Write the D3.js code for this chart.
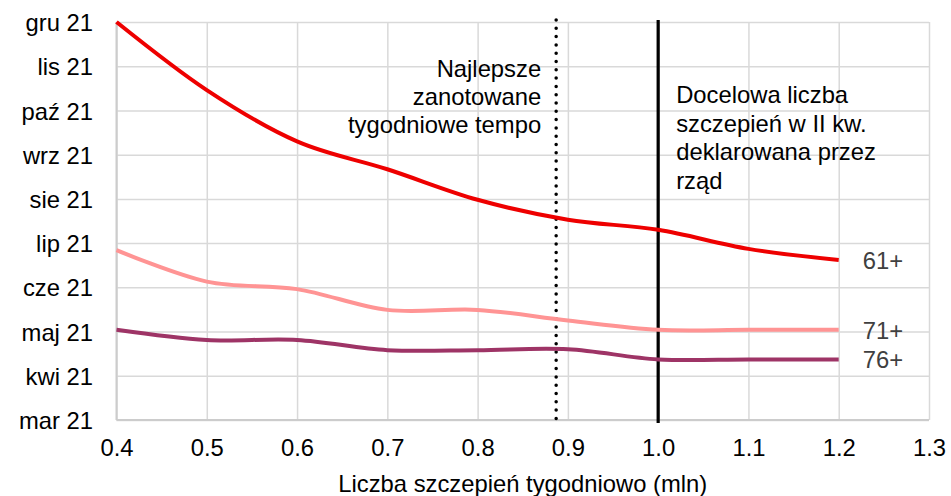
<!DOCTYPE html>
<html>
<head>
<meta charset="utf-8">
<script src="https://cdn.jsdelivr.net/npm/d3@7"></script>
<style>
  html, body { margin: 0; padding: 0; background: #fff; }
  svg { display: block; font-family: "Liberation Sans", Arial, sans-serif; }
</style>
</head>
<body>
<svg id="chart" width="951" height="496"></svg>
<script>
// ---- data ----
const xTicks = [0.4, 0.5, 0.6, 0.7, 0.8, 0.9, 1.0, 1.1, 1.2, 1.3];
const monthLabels = ["mar 21", "kwi 21", "maj 21", "cze 21", "lip 21", "sie 21", "wrz 21", "paź 21", "lis 21", "gru 21"];
const xValues = [0.4, 0.5, 0.6, 0.7, 0.8, 0.9, 1.0, 1.1, 1.2];
// months since March 2021
const values61 = [9.0, 7.46, 6.30, 5.67, 4.98, 4.53, 4.30, 3.87, 3.62];
const values71 = [3.84, 3.13, 2.96, 2.49, 2.49, 2.25, 2.04, 2.04, 2.04];
const values76 = [2.04, 1.81, 1.81, 1.58, 1.58, 1.60, 1.37, 1.37, 1.37];
const seriesNames = ["61+", "71+", "76+"];
const seriesColors = ["#ee0000", "#ff9494", "#9e3466"];
const bestPace = 0.887;
const targetPace = 1.0;
const bestPaceText = ["Najlepsze", "zanotowane", "tygodniowe tempo"];
const targetText = ["Docelowa liczba", "szczepień w II kw.", "deklarowana przez", "rząd"];
const xTitle = "Liczba szczepień tygodniowo (mln)";

// ---- layout ----
const svg = d3.select("#chart");
const pL = 116.5, pR = 929, pT = 22, pB = 420;
const x = d3.scaleLinear().domain([0.4, 1.3]).range([pL, pR]);
const y = d3.scaleLinear().domain([0, 9]).range([pB, pT]);
const fs = 23.8;

// gridlines + axes
const xAxis = d3.axisBottom(x).tickValues(xTicks).tickFormat(d3.format(".1f"))
  .tickSize(-(pB - pT)).tickPadding(19);
const gx = svg.append("g").attr("transform", `translate(0,${pB})`).call(xAxis);
gx.select(".domain").remove();
gx.selectAll("line").attr("stroke", "#d9d9d9").attr("stroke-width", 1.5);
gx.selectAll("text").attr("font-size", fs).attr("fill", "#000").attr("font-family", "Liberation Sans, Arial, sans-serif");

const yAxis = d3.axisLeft(y).tickValues(d3.range(monthLabels.length))
  .tickFormat(i => monthLabels[i]).tickSize(-(pR - pL)).tickPadding(23.5);
const gy = svg.append("g").attr("transform", `translate(${pL},0)`).call(yAxis);
gy.select(".domain").remove();
gy.selectAll("line").attr("stroke", "#d9d9d9").attr("stroke-width", 1.5);
gy.selectAll("text").attr("font-size", fs).attr("fill", "#000").attr("dy", "0.36em")
  .attr("font-family", "Liberation Sans, Arial, sans-serif");

// frame
svg.append("line").attr("x1", pL).attr("x2", pL).attr("y1", pT).attr("y2", pB)
  .attr("stroke", "#cccccc").attr("stroke-width", 2);
svg.append("line").attr("x1", pL).attr("x2", pR).attr("y1", pB).attr("y2", pB)
  .attr("stroke", "#cccccc").attr("stroke-width", 2);

// reference lines
svg.append("line").attr("x1", x(bestPace)).attr("x2", x(bestPace)).attr("y1", pT - 2).attr("y2", pB + 3)
  .attr("stroke", "#000").attr("stroke-width", 3.5).attr("stroke-linecap", "round")
  .attr("stroke-dasharray", "0 8.3");
svg.append("line").attr("x1", x(targetPace)).attr("x2", x(targetPace)).attr("y1", pT - 2).attr("y2", pB + 3)
  .attr("stroke", "#000").attr("stroke-width", 3.2);

// series
const allSeries = [values61, values71, values76];
const line = d3.line().x((d, i) => x(xValues[i])).y(d => y(d)).curve(d3.curveCardinal.tension(0));
allSeries.forEach((vals, k) => {
  svg.append("path").datum(vals).attr("d", line).attr("fill", "none")
    .attr("stroke", seriesColors[k]).attr("stroke-width", 4).attr("stroke-linejoin", "round");
  svg.append("text").attr("x", x(xValues[xValues.length - 1]) + 24).attr("y", y(vals[vals.length - 1]))
    .attr("dy", "0.38em").attr("font-size", fs).attr("fill", "#404040").text(seriesNames[k]);
});

// annotations
bestPaceText.forEach((t, i) => {
  svg.append("text").attr("x", x(bestPace) - 15).attr("y", 77 + i * 28)
    .attr("text-anchor", "end").attr("font-size", fs).attr("fill", "#000").text(t);
});
targetText.forEach((t, i) => {
  svg.append("text").attr("x", x(targetPace) + 18).attr("y", 103 + i * 28.7)
    .attr("font-size", fs).attr("fill", "#000").text(t);
});

// x title
svg.append("text").attr("x", (pL + pR) / 2).attr("y", 492).attr("text-anchor", "middle")
  .attr("font-size", fs).attr("fill", "#000").text(xTitle);
</script>
</body>
</html>
